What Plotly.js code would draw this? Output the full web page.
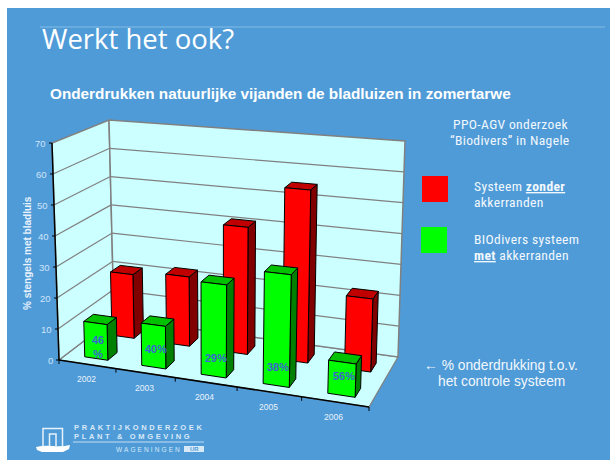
<!DOCTYPE html>
<html><head><meta charset="utf-8">
<script src="https://cdn.plot.ly/plotly-3.0.0.min.js"></script>
<style>html,body{margin:0;padding:0;background:#fff}</style></head>
<body><div id="chart" style="width:610px;height:460px"></div>
<script>
// ---- data ----
const years = ['2002','2003','2004','2005','2006'];
const zonder = [21.5, 23, 41.5, 55.5, 23];
const met = [11.5, 13.5, 29, 34.5, 10];
const onderdrukking = ['46<br>%','40%','29%','38%','56%'];
const yTicks = [0,10,20,30,40,50,60,70];
const yMax = 70;

// ---- perspective projection of the 3D box onto the page ----
const box = {
  bottom:{fl:[59,360],fr:[369,407],bl:[114,318],br:[398,357]},
  top:{fl:[52,143],fr:[377,170],bl:[109,120],br:[405,141]},
  foreshorten:0.9
};
function project(uRaw,val,w){
  const a=box.foreshorten, u=a*uRaw/(1+(a-1)*uRaw);
  const v=val/yMax, out=[0,0];
  for(let k=0;k<2;k++){
    const b=(1-u)*((1-w)*box.bottom.fl[k]+w*box.bottom.bl[k])+u*((1-w)*box.bottom.fr[k]+w*box.bottom.br[k]);
    const t=(1-u)*((1-w)*box.top.fl[k]+w*box.top.bl[k])+u*((1-w)*box.top.fr[k]+w*box.top.br[k]);
    out[k]=b*(1-v)+t*v;
  }
  return out;
}
function poly(pts,fill,line,width,name){
  const c=pts.map(p=>project(p[0],p[1],p[2]));
  c.push(c[0]);
  return {type:'scatter',mode:'lines',x:c.map(p=>p[0]),y:c.map(p=>p[1]),fill:'toself',fillcolor:fill,
    line:{color:line,width:width},hoverinfo:'skip',showlegend:false,name:name||''};
}
function seg(list,color,width){
  const x=[],y=[];
  list.forEach(s=>{const a=project(...s[0]),b=project(...s[1]);x.push(a[0],b[0],null);y.push(a[1],b[1],null);});
  return {type:'scatter',mode:'lines',x,y,line:{color,width},hoverinfo:'skip',showlegend:false};
}
const traces=[];
const wallC='#CCFFFF', wallL='#808080';
traces.push(poly([[0,0,0],[0,0,1],[1,0,1],[1,0,0]],wallC,wallL,1.2));
traces.push(poly([[0,0,0],[0,0,1],[0,yMax,1],[0,yMax,0]],wallC,wallL,1.5));
traces.push(poly([[0,0,1],[1,0,1],[1,yMax,1],[0,yMax,1]],wallC,wallL,1.5));
const gl=[];
yTicks.slice(1,-1).forEach(t=>{gl.push([[0,t,0],[0,t,1]]);gl.push([[0,t,1],[1,t,1]]);});
traces.push(seg(gl,wallL,1.2));
const ax=[[[0,0,0],[0,yMax,0]],[[0,0,0],[1,0,0]]];
traces.push(seg(ax,'#000',1.5));

const barW=0.082, depth=0.18, barShift=0.006;
function bars(vals,w1,cols,name){
  vals.forEach((v,i)=>{
    const uc=(i+0.5)/years.length+barShift,u0=uc-barW/2,u1=uc+barW/2,w2=w1+depth;
    traces.push(poly([[u1,0,w1],[u1,0,w2],[u1,v,w2],[u1,v,w1]],cols[2],'#000',1,name));
    traces.push(poly([[u0,v,w1],[u1,v,w1],[u1,v,w2],[u0,v,w2]],cols[1],'#000',1,name));
    traces.push(poly([[u0,0,w1],[u1,0,w1],[u1,v,w1],[u0,v,w1]],cols[0],'#000',1,name));
  });
}
bars(zonder,0.65,['#FF0000','#C00000','#800000'],'Systeem zonder akkerranden');
bars(met,0.14,['#00FF00','#00C000','#008000'],'BIOdivers systeem met akkerranden');

const ann=[];
function T(x,y,text,size,color,extra){
  ann.push(Object.assign({xref:'x',yref:'y',x,y,text,showarrow:false,xanchor:'left',yanchor:'middle',
    font:{family:'Liberation Sans',size,color},borderpad:0},extra||{}));
}
const tickL='#CFE4FA';
yTicks.forEach(t=>{
  const p=project(0,t,0);
  traces.push({type:'scatter',mode:'lines',x:[p[0]-3,p[0]],y:[p[1],p[1]],line:{color:'#000',width:1},hoverinfo:'skip',showlegend:false});
  T(p[0]-5,p[1],String(t),9.5,tickL,{xanchor:'right'});
});
for(let i=0;i<=years.length;i++){
  const p=project(i/years.length,0,0);
  traces.push({type:'scatter',mode:'lines',x:[p[0],p[0]],y:[p[1],p[1]+4],line:{color:'#000',width:1},hoverinfo:'skip',showlegend:false});
}
years.forEach((y,i)=>{
  const p=project((i+0.5)/years.length,0,0);
  T(p[0]-1,p[1]+15,y,8.5,'#E8F2FC',{xanchor:'center'});
});
onderdrukking.forEach((s,i)=>{
  const lift=s.includes('<br>')?3.7:5.7;
  const p=project((i+0.5)/years.length+barShift,lift,0.14);
  T(p[0]+2,p[1],'<b>'+s+'</b>',11,'#3A66D0',{xanchor:'center'});
});
const W='#F2F8FD';
T(41,38.5,'Werkt het ook?',28,'#FFFFFF',{font:{family:'Open Sans',size:27.5,color:'#FFFFFF'}});
T(49,93,'<b>Onderdrukken natuurlijke vijanden de bladluizen in zomertarwe</b>',15.3,'#FFFFFF');
T(27,253,'<b>% stengels met bladluis</b>',10,'#E8F2FC',{xanchor:'center',textangle:-90});
const LEG=13.6, narrow={family:'Roboto',size:LEG,color:W};
const ST='font-stretch:75%;letter-spacing:0.35px';
const C=s=>'<span style="'+ST+'">'+s+'</span>';
const UL='text-decoration:underline;'+ST;
T(510,124,C('PPO-AGV onderzoek'),LEG,W,{xanchor:'center',font:narrow});
T(510,140,C('“Biodivers” in Nagele'),LEG,W,{xanchor:'center',font:narrow});
T(473,186,C('Systeem ')+'<span style="'+UL+'"><b>zonder</b></span>',LEG,W,{font:narrow});
T(473,202,C('akkerranden'),LEG,W,{font:narrow});
T(473,239,C('BIOdivers systeem'),LEG,W,{font:narrow});
T(473,255,'<span style="'+UL+'"><b>met</b></span>'+C(' akkerranden'),LEG,W,{font:narrow});
T(501,365,'← % onderdrukking t.o.v.',13.8,W,{xanchor:'center'});
T(501,381,'het controle systeem',13.8,W,{xanchor:'center'});
const LS=s=>'<span style="letter-spacing:2.65px">'+s+'</span>';
T(73,427.5,LS('<b>PRAKTIJKONDERZOEK</b>'),7.5,'#D8E9F8');
T(73,436.5,LS('<b>PLANT &amp; OMGEVING</b>'),7.5,'#D8E9F8');
T(115,449,'<span style="letter-spacing:2.1px">WAGENINGEN</span>',6.5,'#D8E9F8');
T(194,449,'<b>UR</b>',6,'#4F9BD7',{xanchor:'center'});

const shapes=[
 {type:'rect',xref:'x',yref:'y',x0:7,x1:610,y0:8,y1:460,fillcolor:'#4F9BD7',line:{width:0},layer:'below'},
 {type:'line',xref:'x',yref:'y',x0:40,x1:605,y0:27,y1:27,line:{color:'#85BCE6',width:1}},
 {type:'rect',xref:'x',yref:'y',x0:422,x1:448,y0:176,y1:202,fillcolor:'#FF0000',line:{width:0}},
 {type:'rect',xref:'x',yref:'y',x0:421,x1:447,y0:227,y1:253,fillcolor:'#00FF00',line:{width:0}},
 {type:'line',xref:'x',yref:'y',x0:73,x1:204,y0:442,y1:442,line:{color:'#C5DDF3',width:1}},
 {type:'rect',xref:'x',yref:'y',x0:184,x1:204,y0:446,y1:452,fillcolor:'#D8E9F8',line:{width:0}},
 {type:'path',xref:'x',yref:'y',path:'M43,446 L43,428.5 L62.5,428.5 L62.5,446 M49.5,446 L49.5,434 L56,434 L56,446',line:{color:'#E8F2FC',width:1.5}},
 {type:'path',xref:'x',yref:'y',path:'M36,447 Q44,445 53,446 Q62,447 70,445 L69,449 L63,452 L42,452 L37,450 Z',fillcolor:'#FFFFFF',line:{width:0}}
];
Plotly.newPlot('chart',traces,{
  width:610,height:460,margin:{l:0,r:0,t:0,b:0},paper_bgcolor:'#FFFFFF',plot_bgcolor:'rgba(0,0,0,0)',showlegend:false,
  xaxis:{range:[0,610],visible:false,fixedrange:true},
  yaxis:{range:[460,0],visible:false,fixedrange:true},
  annotations:ann,shapes:shapes
},{displayModeBar:false,staticPlot:true});
</script></body></html>
